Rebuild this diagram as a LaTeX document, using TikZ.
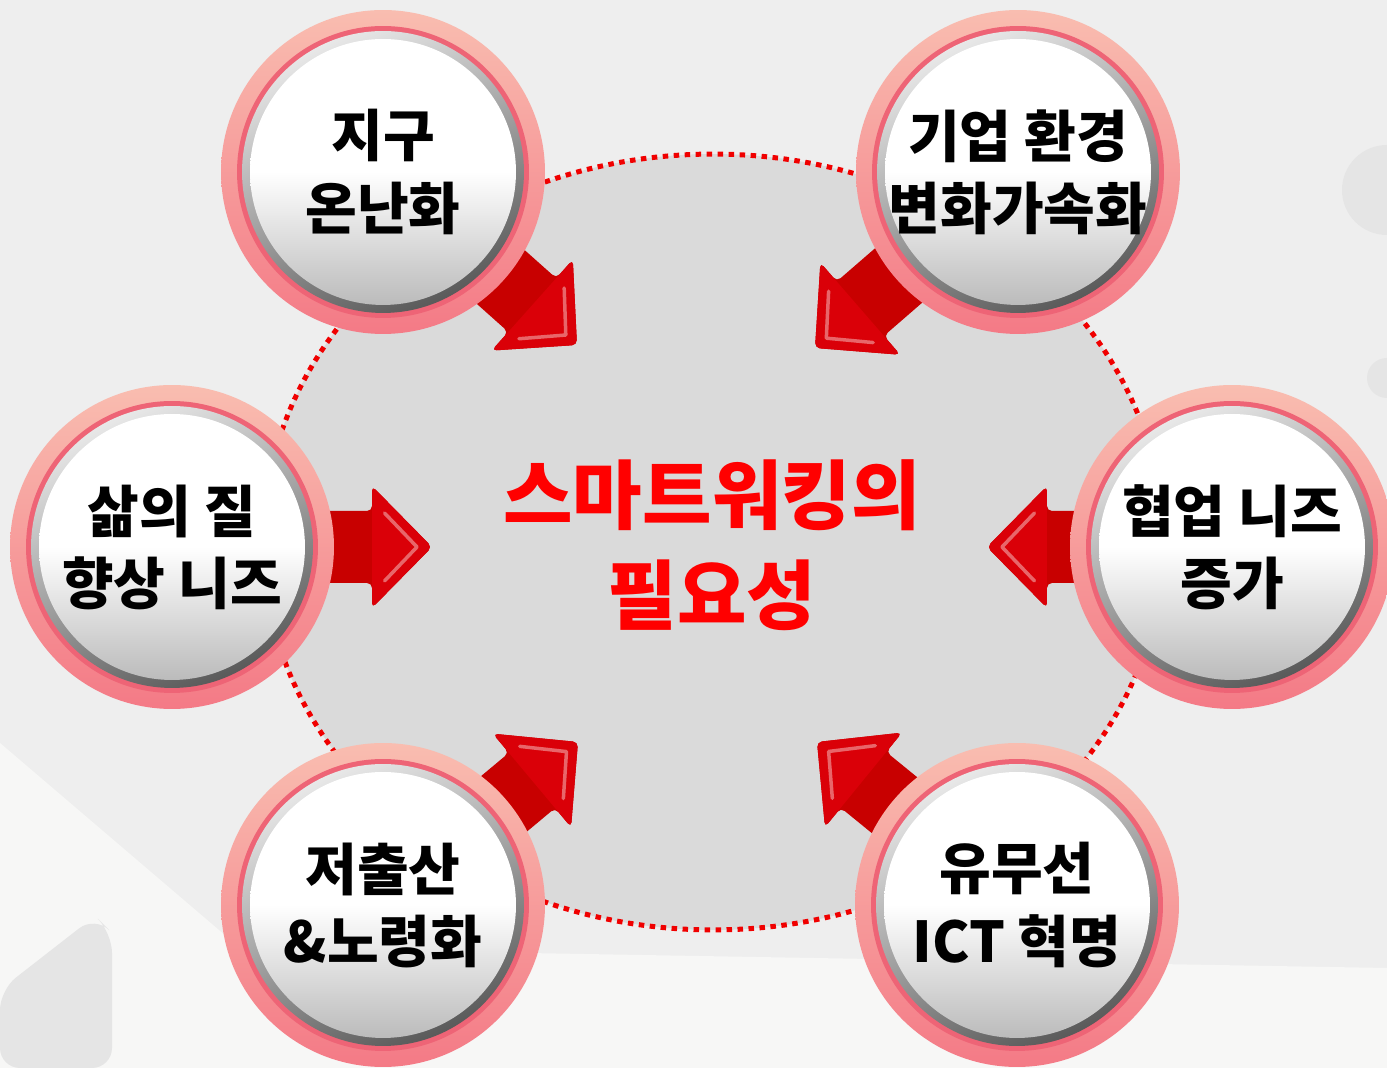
\documentclass[tikz,border=0pt]{standalone}
\usepackage{fontspec}
\newfontfamily\krfont{Noto Sans CJK KR}
\usetikzlibrary{calc,shapes.geometric}

\definecolor{bgcol}{HTML}{EEEEEE}
\definecolor{bglight}{HTML}{F7F7F6}
\definecolor{bgshape}{HTML}{E5E5E5}
\definecolor{hubfill}{HTML}{DADADA}
\definecolor{dotred}{HTML}{F00000}
\definecolor{ringtop}{HTML}{F9BDB0}
\definecolor{ringbot}{HTML}{F47A86}
\definecolor{ringline}{HTML}{EE6476}
\definecolor{silverhi}{HTML}{E8E8E8}
\definecolor{silverlo}{HTML}{5A5A5A}
\definecolor{discgray}{HTML}{BBBBBB}
\definecolor{arrowdark}{HTML}{C80000}
\definecolor{arrowlight}{HTML}{DA0008}
\definecolor{titlered}{HTML}{FF0000}

\pgfdeclarelayer{bg}
\pgfdeclarelayer{arrowlayer}
\pgfsetlayers{bg,arrowlayer,main}

\tikzset{
  bubble/.style={circle, minimum size=6.48cm, inner sep=0pt, align=center,
    top color=ringtop, bottom color=ringbot, text=black,
    font=\krfont\bfseries\fontsize{32}{41}\selectfont,
    path picture={
      \fill[ringline] (path picture bounding box.center) circle (2.92cm);
      \shade[top color=silverhi, bottom color=silverlo, shading angle=25]
        (path picture bounding box.center) circle (2.82cm);
      \shade[top color=white, bottom color=discgray, middle color=white]
        (path picture bounding box.center) circle (2.66cm);
    }},
  hub/.style={ellipse, minimum width=18cm, minimum height=15.52cm, fill=hubfill,
    draw=dotred, line width=0.1cm, dash pattern=on 0.11cm off 0.11cm},
  title/.style={align=center, text=titlered,
    font=\krfont\bfseries\fontsize{43}{57}\selectfont},
}

% block arrow from a bubble (#1) to its tip (#2)
\newcommand\bigarrow[2]{%
  \fill[arrowdark, rounded corners=0.1cm] (#2)
    -- ($(#2)!1.2cm!(#1)!1.22cm!90:(#1)$)
    -- ($(#2)!1.2cm!(#1)!0.72cm!90:(#1)$)
    -- ($(#1)!0.72cm!-90:(#2)$)
    -- ($(#1)!0.72cm!90:(#2)$)
    -- ($(#2)!1.2cm!(#1)!0.72cm!-90:(#1)$)
    -- ($(#2)!1.2cm!(#1)!1.22cm!-90:(#1)$)
    -- cycle;
  \fill[arrowlight, rounded corners=0.1cm] (#2)
    -- ($(#2)!1.2cm!(#1)!1.22cm!90:(#1)$)
    -- ($(#2)!1.2cm!(#1)!1.22cm!-90:(#1)$)
    -- cycle;
  \draw[white, opacity=.4, line width=0.07cm, line cap=round, line join=round]
    ($(#2)!0.95cm!(#1)!0.68cm!90:(#1)$) -- ($(#2)!0.3cm!(#1)$)
    -- ($(#2)!0.95cm!(#1)!0.68cm!-90:(#1)$);
}

\begin{document}
\begin{tikzpicture}[x=0.02cm, y=0.02cm]
\useasboundingbox (0,0) rectangle (1387,1068);

\begin{pgfonlayer}{bg}
  \fill[bgcol] (0,0) rectangle (1387,1068);
  \fill[bglight] (0,325) -- (240,120) -- (1387,100) -- (1387,0) -- (0,0) -- cycle;
  \fill[bgshape, rounded corners=0.4cm] (0,78) -- (95,152) -- (112,135) -- (112,0) -- (0,0) -- cycle;
  \fill[bgshape] (1387,878) circle (0.9cm);
  \fill[bgshape] (1387,690) circle (0.4cm);
  \node[hub] (hub) at (713,526) {};
\end{pgfonlayer}

\node[bubble] (warming) at (383,896) {지구\\온난화};
\node[bubble] (bizenv) at (1018,896) {기업 환경\\변화가속화};
\node[bubble] (life) at (172,521) {삶의 질\\향상 니즈};
\node[bubble] (collab) at (1232,521) {협업 니즈\\증가};
\node[bubble] (aging) at (383,163) {저출산\\\&노령화};
\node[bubble] (ict) at (1017,163) {유무선\\ICT 혁명};

\node[title] (need) at (712,523) {스마트워킹의\\필요성};

\coordinate (warming-tip) at (577,723);
\coordinate (bizenv-tip) at (815,720);
\coordinate (life-tip) at (432,521);
\coordinate (collab-tip) at (987,521);
\coordinate (aging-tip) at (578,326);
\coordinate (ict-tip) at (817,326);

\begin{pgfonlayer}{arrowlayer}
  \bigarrow{warming}{warming-tip}
  \bigarrow{bizenv}{bizenv-tip}
  \bigarrow{life}{life-tip}
  \bigarrow{collab}{collab-tip}
  \bigarrow{aging}{aging-tip}
  \bigarrow{ict}{ict-tip}
\end{pgfonlayer}
\end{tikzpicture}
\end{document}
